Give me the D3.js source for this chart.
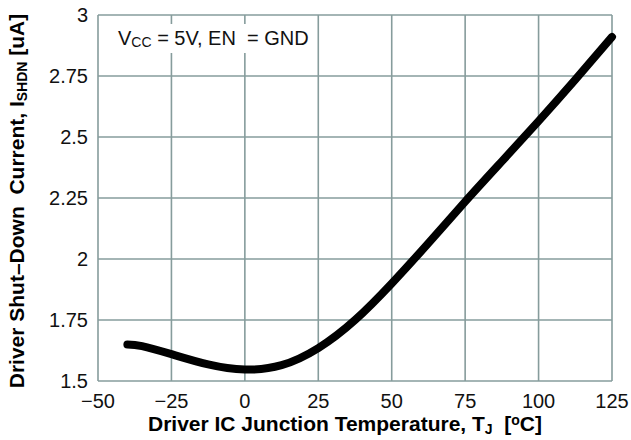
<!DOCTYPE html>
<html>
	<head>
		<meta charset = "utf-8">
		<script src = "https://cdn.jsdelivr.net/npm/d3@7"></script>
		<style>
			body { margin: 0; background: #fff; }
			text { font-family: "Liberation Sans", Arial, sans-serif; }
		</style>
	</head>
	<body>
		<script>
			"use strict";
			var tempC = [-40, -35, -25, -12.5, 0, 12.5, 25, 37.5, 50, 62.5, 75, 87.5, 100, 112.5, 125];
			var currentUA = [1.650, 1.643, 1.610, 1.568, 1.547, 1.565, 1.635, 1.750, 1.900, 2.065, 2.235, 2.400, 2.565, 2.735, 2.910];
			var xTicks = [-50, -25, 0, 25, 50, 75, 100, 125];
			var yTicks = [1.5, 1.75, 2, 2.25, 2.5, 2.75, 3];
			var yTickLabels = ["1.5", "1.75", "2", "2.25", "2.5", "2.75", "3"];

			var W = 631, H = 440;
			var pLeft = 98, pRight = 612, pTop = 15, pBottom = 381;
			var grid = "#869c9c";

			var svg = d3.select("body").append("svg")
						.attr("width", W).attr("height", H);

			var x = d3.scaleLinear().domain([-50, 125]).range([pLeft, pRight]);
			var y = d3.scaleLinear().domain([1.5, 3]).range([pBottom, pTop]);

			// grid
			svg.append("g").selectAll("line").data(xTicks).enter().append("line")
				.attr("x1", function(d){ return x(d); })
				.attr("x2", function(d){ return x(d); })
				.attr("y1", pTop).attr("y2", pBottom)
				.attr("stroke", grid).attr("stroke-width", 1.6);
			svg.append("g").selectAll("line").data(yTicks).enter().append("line")
				.attr("y1", function(d){ return y(d); })
				.attr("y2", function(d){ return y(d); })
				.attr("x1", pLeft).attr("x2", pRight)
				.attr("stroke", grid).attr("stroke-width", 1.6);

			// legend box
			svg.append("rect").attr("x", 108).attr("y", 24).attr("width", 196).attr("height", 29)
				.attr("fill", "#fff");
			var leg = svg.append("text").attr("x", 118).attr("y", 45).attr("font-size", 20).attr("fill", "#111");
			leg.append("tspan").text("V");
			leg.append("tspan").attr("font-size", 14).attr("dy", 2).text("CC");
			leg.append("tspan").attr("dy", -2).text(" = 5V, EN \u00a0= GND");

			// curve
			var line = d3.line()
						.x(function(d, i){ return x(tempC[i]); })
						.y(function(d){ return y(d); })
						.curve(d3.curveNatural);
			svg.append("path").datum(currentUA)
				.attr("d", line)
				.attr("fill", "none").attr("stroke", "#000")
				.attr("stroke-width", 8).attr("stroke-linecap", "round");

			// tick labels
			svg.append("g").selectAll("text").data(xTicks).enter().append("text")
				.attr("x", function(d){ return x(d); })
				.attr("y", 408)
				.attr("text-anchor", "middle").attr("font-size", 20).attr("fill", "#111")
				.text(function(d){ return d < 0 ? "\u2212" + Math.abs(d) : d; });
			svg.append("g").selectAll("text").data(yTicks).enter().append("text")
				.attr("x", 88)
				.attr("y", function(d){ return y(d) + 7; })
				.attr("text-anchor", "end").attr("font-size", 20).attr("fill", "#111")
				.text(function(d, i){ return yTickLabels[i]; });

			// axis titles
			var xt = svg.append("text").attr("x", 345).attr("y", 431)
						.attr("text-anchor", "middle").attr("font-size", 21).attr("font-weight", "bold");
			xt.append("tspan").text("Driver IC Junction Temperature, T");
			xt.append("tspan").attr("font-size", 14).attr("dy", 3).text("J");
			xt.append("tspan").attr("dy", -3).text("\u00a0 [");
			xt.append("tspan").attr("font-size", 14).attr("dy", -6).text("o");
			xt.append("tspan").attr("dy", 6).text("C]");

			var yt = svg.append("text").attr("transform", "translate(24,201) rotate(-90)")
						.attr("text-anchor", "middle").attr("font-size", 21).attr("font-weight", "bold");
			yt.append("tspan").text("Driver Shut\u2013Down \u00a0Current, I");
			yt.append("tspan").attr("font-size", 14).attr("dy", 3).text("SHDN");
			yt.append("tspan").attr("dy", -3).text(" [uA]");
		</script>
	</body>
</html>
